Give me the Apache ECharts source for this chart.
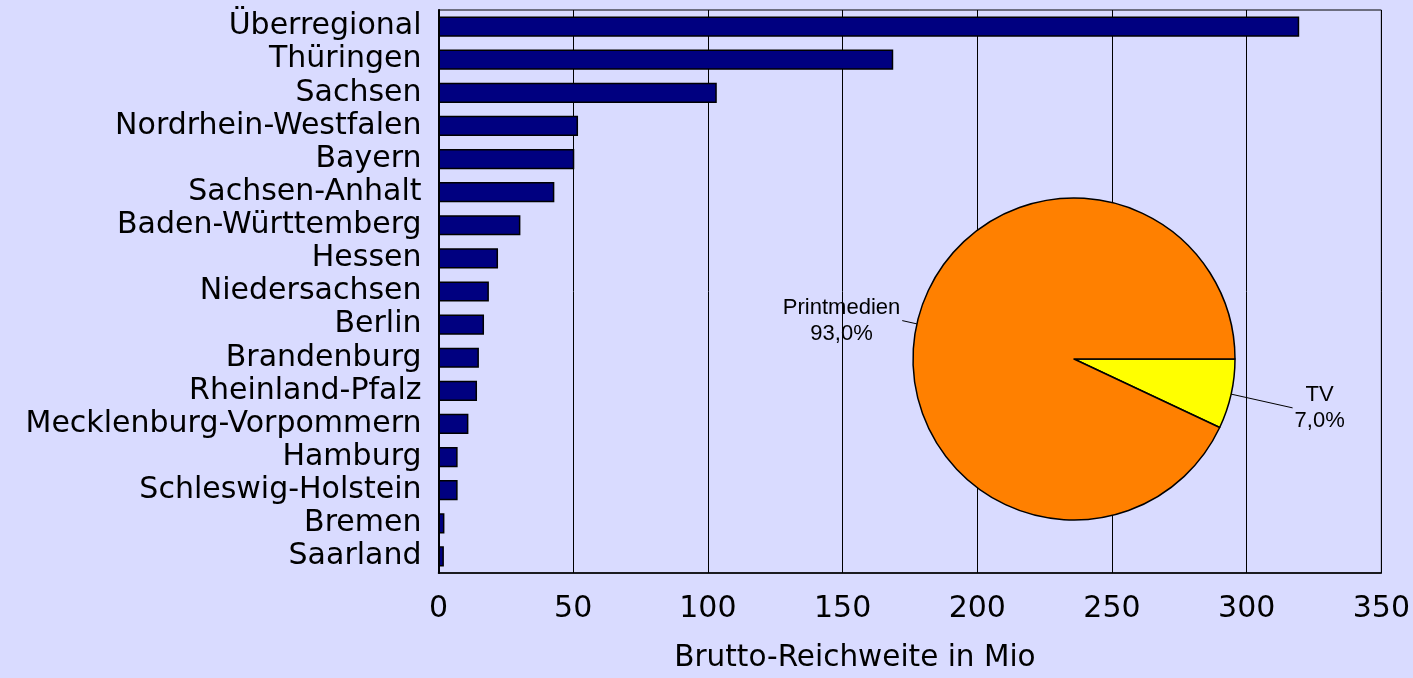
<!DOCTYPE html>
<html>
<head>
<meta charset="utf-8">
<script src="https://cdn.jsdelivr.net/npm/echarts@6/dist/echarts.min.js"></script>
<style>
html,body{margin:0;padding:0;background:#D9DBFF;}
#c{width:1413px;height:678px;}
</style>
</head>
<body>
<div id="c"></div>
<script>
const categories = ['Überregional','Thüringen','Sachsen','Nordrhein-Westfalen','Bayern','Sachsen-Anhalt','Baden-Württemberg','Hessen','Niedersachsen','Berlin','Brandenburg','Rheinland-Pfalz','Mecklenburg-Vorpommern','Hamburg','Schleswig-Holstein','Bremen','Saarland'];
const reach = [319.5,168.8,103.3,51.8,50.4,43.0,30.4,22.1,18.7,16.9,15.0,14.3,11.1,7.1,7.1,2.2,2.0];
const xTicks = {min:0, max:350, interval:50};
const axisTitle = 'Brutto-Reichweite in Mio';
const mediaNames = ['TV','Printmedien'];
const mediaShares = [7.0, 93.0];

const chart = echarts.init(document.getElementById('c'));
const axisFont = {fontFamily:'DejaVu Sans', fontSize:30, color:'#000'};
chart.setOption({
  backgroundColor:'#D9DBFF',
  animation:false,
  grid:{left:438.5, right:31.5, top:10, bottom:105, show:true, borderColor:'#000', borderWidth:1, backgroundColor:'transparent'},
  xAxis:{
    type:'value', min:xTicks.min, max:xTicks.max, interval:xTicks.interval,
    axisLine:{show:true, lineStyle:{color:'#000', width:1.5}},
    axisTick:{show:false},
    splitLine:{show:true, lineStyle:{color:'#000', width:1}},
    axisLabel:Object.assign({margin:21}, axisFont),
    name:axisTitle, nameLocation:'middle', nameGap:70,
    nameTextStyle:{fontFamily:'DejaVu Sans', fontSize:29.5, color:'#000', padding:[0,110,0,0]}
  },
  yAxis:{
    type:'category', data:categories, inverse:true,
    axisLine:{show:true, lineStyle:{color:'#000', width:2}},
    axisTick:{show:false},
    splitLine:{show:false},
    axisLabel:Object.assign({margin:17, interval:0}, axisFont)
  },
  series:[
    {
      type:'bar', data:reach, barCategoryGap:'39%',
      itemStyle:{color:'#000080', borderColor:'#000', borderWidth:1.5},
      z:2
    },
    {
      type:'pie', center:[1074,359], radius:161, startAngle:0, clockwise:true,
      avoidLabelOverlap:false, z:5,
      itemStyle:{borderColor:'#000', borderWidth:1.5},
      label:{
        show:true, position:'outside', distanceToLabelLine:2,
        formatter:function(p){return '{a|'+p.name+'}\n{a|'+p.percent.toFixed(1).replace('.',',')+'%}';},
        rich:{a:{fontFamily:'Liberation Sans', fontSize:22, color:'#000', align:'center', lineHeight:26}}
      },
      labelLine:{show:true, length:15, length2:0, lineStyle:{color:'#000', width:1}},
      data:[
        {name:mediaNames[0], value:mediaShares[0], itemStyle:{color:'#FFFF00'}, labelLine:{length:63, length2:0}},
        {name:mediaNames[1], value:mediaShares[1], itemStyle:{color:'#FF8000'}, labelLine:{length:15, length2:0}}
      ]
    }
  ]
});
</script>
</body>
</html>
